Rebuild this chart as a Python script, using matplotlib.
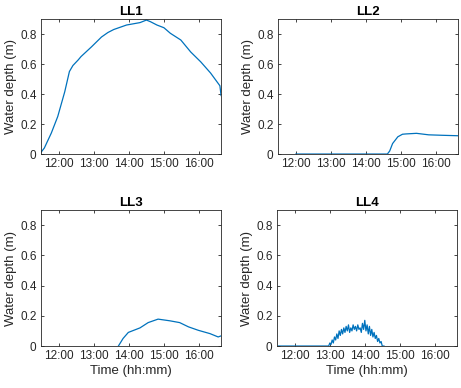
import numpy as np
import matplotlib
matplotlib.use('Agg')
import matplotlib.pyplot as plt

plt.rcParams['font.family'] = ['Liberation Sans', 'DejaVu Sans']

# time stamps are "hh:mm", depth in m
ll1_time = ['11:29', '11:35', '11:47', '11:58', '12:10', '12:18', '12:24', '12:33', '12:38', '12:56',
            '13:13', '13:24', '13:34', '13:56', '14:19', '14:30', '14:37', '14:48', '15:00', '15:11',
            '15:29', '15:46', '16:03', '16:20', '16:36', '16:38']
ll1_depth = [0.01, 0.04, 0.14, 0.25, 0.415, 0.55, 0.59, 0.627, 0.65, 0.715,
             0.78, 0.81, 0.83, 0.86, 0.876, 0.893, 0.882, 0.86, 0.842, 0.805,
             0.76, 0.68, 0.615, 0.54, 0.455, 0.39]

ll2_time = ['12:00', '13:00', '14:00', '14:37', '14:41', '14:46', '14:55', '15:03', '15:09', '15:27',
            '15:48', '16:11', '16:38']
ll2_depth = [0.0, 0.0, 0.0, 0.0, 0.02, 0.07, 0.115, 0.132, 0.134, 0.138,
             0.128, 0.125, 0.122]

ll3_time = ['13:42', '13:50', '13:59', '14:19', '14:33', '14:50', '15:10', '15:27', '15:42', '15:59',
            '16:19', '16:33', '16:38']
ll3_depth = [0.0, 0.05, 0.09, 0.12, 0.155, 0.178, 0.167, 0.155, 0.127, 0.104,
             0.082, 0.06, 0.067]

ll4_time = ['11:32', '12:30', '12:58', '13:00', '13:02', '13:04', '13:06', '13:08', '13:10', '13:12',
            '13:14', '13:16', '13:18', '13:20', '13:22', '13:24', '13:26', '13:28', '13:30', '13:32',
            '13:34', '13:36', '13:38', '13:40', '13:42', '13:44', '13:46', '13:48', '13:50', '13:52',
            '13:54', '13:56', '13:58', '14:00', '14:02', '14:04', '14:06', '14:08', '14:10', '14:12',
            '14:14', '14:16', '14:18', '14:20', '14:22', '14:24', '14:26', '14:28', '14:30', '14:33']
ll4_depth = [0.0, 0.0, 0.0, 0.02, 0.01, 0.04, 0.02, 0.06, 0.04, 0.08,
             0.05, 0.10, 0.07, 0.11, 0.08, 0.12, 0.09, 0.13, 0.10, 0.14,
             0.09, 0.12, 0.10, 0.14, 0.11, 0.13, 0.10, 0.14, 0.11, 0.12,
             0.09, 0.15, 0.11, 0.17, 0.10, 0.14, 0.08, 0.13, 0.07, 0.11,
             0.06, 0.09, 0.05, 0.07, 0.03, 0.05, 0.02, 0.03, 0.0, 0.0]

titles = ['LL1', 'LL2', 'LL3', 'LL4']
tick_hours = [12, 13, 14, 15, 16]
tick_labels = ['12:00', '13:00', '14:00', '15:00', '16:00']


def to_hours(ts):
    return np.array([int(t[:2]) + int(t[3:]) / 60 for t in ts])


series = [(ll1_time, ll1_depth), (ll2_time, ll2_depth), (ll3_time, ll3_depth), (ll4_time, ll4_depth)]

fig = plt.figure(figsize=(4.61, 3.88), dpi=100)
boxes = [[0.0883, 0.603, 0.391, 0.348],
         [0.6024, 0.603, 0.3905, 0.348],
         [0.0883, 0.1082, 0.391, 0.3505],
         [0.6002, 0.1082, 0.3905, 0.3505]]

edge = '#262626'
for i, (ts, d) in enumerate(series):
    ax = fig.add_axes(boxes[i])
    ax.plot(to_hours(ts), d, color='#0072BD', lw=0.9)
    ax.set_xlim(11.48, 16.63)
    ax.set_ylim(0, 0.9)
    ax.set_xticks(tick_hours)
    ax.set_xticklabels(tick_labels)
    ax.set_yticks([0, 0.2, 0.4, 0.6, 0.8])
    ax.set_yticklabels(['0', '0.2', '0.4', '0.6', '0.8'])
    ax.tick_params(direction='in', top=True, right=True, length=2.5, width=0.6,
                   labelsize=8.5, colors=edge, pad=3)
    for s in ax.spines.values():
        s.set_linewidth(0.6)
        s.set_color(edge)
    ax.set_title(titles[i], fontsize=9.5, fontweight='bold', pad=3, color='black')
    ax.set_ylabel('Water depth (m)', fontsize=9.5, color=edge, labelpad=2)
    if i >= 2:
        ax.set_xlabel('Time (hh:mm)', fontsize=9.5, color=edge, labelpad=2)

fig.savefig('out.png', dpi=100)
